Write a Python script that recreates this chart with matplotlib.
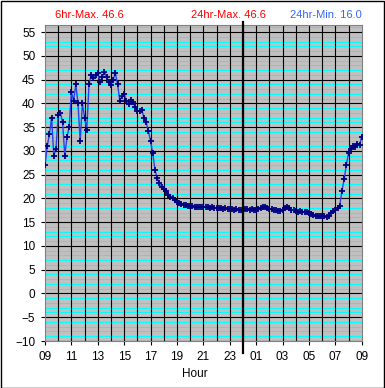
import numpy as np
import matplotlib
matplotlib.use("Agg")
import matplotlib.pyplot as plt
from matplotlib.patches import Rectangle

plt.rcParams['font.family'] = ['Liberation Sans', 'DejaVu Sans']

# temperatura cada 10 min desde las 09:00
paso_min = 10
temp = [27.0, 31.0, 33.5, 37.0, 29.0, 30.5, 37.5,
        38.0, 36.0, 29.0, 33.0, 35.0, 42.5,
        40.5, 44.0, 40.0, 32.0, 40.0, 37.0,
        34.5, 44.0, 46.0, 45.4, 46.0, 46.3,
        44.5, 45.5, 46.6, 45.6, 44.5, 43.8,
        45.0, 46.4, 44.0, 40.6, 41.5, 42.0,
        40.5, 39.8, 40.7, 40.2, 39.3, 38.3,
        38.4, 38.6, 37.0, 36.0, 34.2, 32.0,
        29.5, 26.0, 24.3, 23.2, 22.5, 22.0,
        21.5, 20.8, 20.3, 20.0, 19.6, 19.3,
        19.1, 18.9, 18.7, 18.6, 18.5, 18.4,
        18.4, 18.3, 18.3, 18.2, 18.2, 18.3,
        18.1, 18.2, 18.0, 18.1, 18.0, 17.9,
        18.0, 17.9, 17.8, 17.9, 17.8, 17.7,
        17.7, 17.6, 17.7, 17.6, 17.5, 17.6,
        17.7, 17.8, 17.6, 17.7, 17.6, 17.6,
        17.8, 18.0, 18.2, 18.1, 18.0, 17.8,
        17.7, 17.6, 17.5, 17.4, 17.4, 17.5,
        18.0, 18.2, 17.9, 17.6, 17.5, 17.3,
        17.2, 17.3, 17.2, 17.2, 17.2, 17.0,
        16.7, 16.5, 16.4, 16.4, 16.3, 16.3,
        16.2, 16.0, 16.4, 17.0, 17.3, 17.6,
        18.0, 18.5, 21.5, 24.0, 27.0, 29.5,
        30.5, 31.0, 30.8, 31.5, 31.2, 33.0]
horas = np.arange(len(temp)) * paso_min / 60.0

etiquetas_x = ["09", "11", "13", "15", "17", "19", "21", "23",
               "01", "03", "05", "07", "09"]
max_6h = 46.6
max_24h = 46.6
min_24h = 16.0

fig = plt.figure(figsize=(3.85, 3.88), dpi=100)
ax = fig.add_axes([45/385, 47/388, 316.7/385, 316.5/388])
ax.set_facecolor('#c0c0c0')

# lineas de fondo
for v in range(-10, 57):
    if v % 5 != 0:
        ax.axhline(v, color='#00ffff', lw=0.7, zorder=1)
for v in range(-10, 56, 5):
    ax.axhline(v, color='black', lw=0.8, zorder=2)
for h in range(1, 24):
    ax.axvline(h, color='black', lw=0.8, zorder=2)
ax.axvline(15, ymin=-0.038, ymax=1.008, color='black', lw=1.6,
           zorder=4, clip_on=False)

ax.plot(horas, temp, color='#2a40e8', lw=1.0, marker='+', ms=5,
        mec='#000080', mew=1.3, zorder=3)

ax.set_xlim(0, 24)
ax.set_ylim(-10, 56.6)
ax.set_yticks(range(-10, 56, 5))
ax.set_xticks(range(0, 25, 2))
ax.set_xticklabels(etiquetas_x)
ax.tick_params(axis='both', labelsize=8.5, length=3, width=0.8,
               color='black', pad=4)
for s in ax.spines.values():
    s.set_color('#808080')
    s.set_linewidth(0.8)

fig.text(55/385, 1 - 15/388, f"6hr-Max. {max_6h:.1f}", color='#ff0000',
         fontsize=8, ha='left', va='center')
fig.text(228/385, 1 - 15/388, f"24hr-Max. {max_24h:.1f}", color='#ff0000',
         fontsize=8, ha='center', va='center')
fig.text(362/385, 1 - 15/388, f"24hr-Min. {min_24h:.1f}", color='#3366ff',
         fontsize=8, ha='right', va='center')
fig.text(195/385, 1 - 374/388, "Hour", fontsize=8.5, ha='center', va='center')

fig.patches.append(Rectangle((0.5/385, 0.5/388), 383.5/385, 386.5/388,
                             transform=fig.transFigure, fill=False,
                             edgecolor='black', lw=1))

fig.savefig("out.png", dpi=100)
